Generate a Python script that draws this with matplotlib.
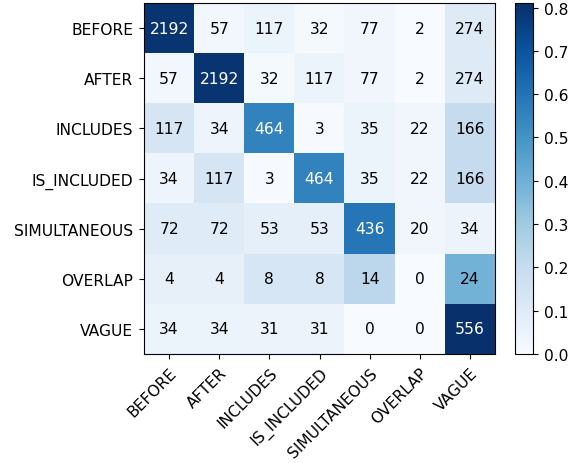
import numpy as np
import matplotlib
matplotlib.use("Agg")
import matplotlib.pyplot as plt

plt.rcParams["font.size"] = 11.2
plt.rcParams["xtick.major.size"] = 3.9
plt.rcParams["ytick.major.size"] = 3.9
plt.rcParams["xtick.major.pad"] = 3.9
plt.rcParams["ytick.major.pad"] = 3.9

labels = ["BEFORE", "AFTER", "INCLUDES", "IS_INCLUDED", "SIMULTANEOUS", "OVERLAP", "VAGUE"]
row_before = [2192, 57, 117, 32, 77, 2, 274]
row_after = [57, 2192, 32, 117, 77, 2, 274]
row_includes = [117, 34, 464, 3, 35, 22, 166]
row_is_included = [34, 117, 3, 464, 35, 22, 166]
row_simultaneous = [72, 72, 53, 53, 436, 20, 34]
row_overlap = [4, 4, 8, 8, 14, 0, 24]
row_vague = [34, 34, 31, 31, 0, 0, 556]

cm = np.array([row_before, row_after, row_includes, row_is_included,
               row_simultaneous, row_overlap, row_vague])
norm = cm / cm.sum(axis=1, keepdims=True)

fig = plt.figure(figsize=(5.81, 4.64), dpi=100)
ax = fig.add_axes([144 / 581, 109 / 464, 351 / 581, 351 / 464])
im = ax.imshow(norm, interpolation="nearest", cmap="Blues", aspect="auto")
cax = fig.add_axes([515 / 581, 109 / 464, 18 / 581, 351 / 464])
cb = fig.colorbar(im, cax=cax)

ax.set_xticks(np.arange(len(labels)))
ax.set_yticks(np.arange(len(labels)))
ax.set_xticklabels(labels, rotation=45, ha="right", rotation_mode="anchor")
ax.set_yticklabels(labels)

thresh = norm.max() / 2.0
for i in range(cm.shape[0]):
    for j in range(cm.shape[1]):
        ax.text(j, i, str(cm[i, j]), ha="center", va="center",
                color="white" if norm[i, j] > thresh else "black")

fig.savefig("out.png", dpi=100)
